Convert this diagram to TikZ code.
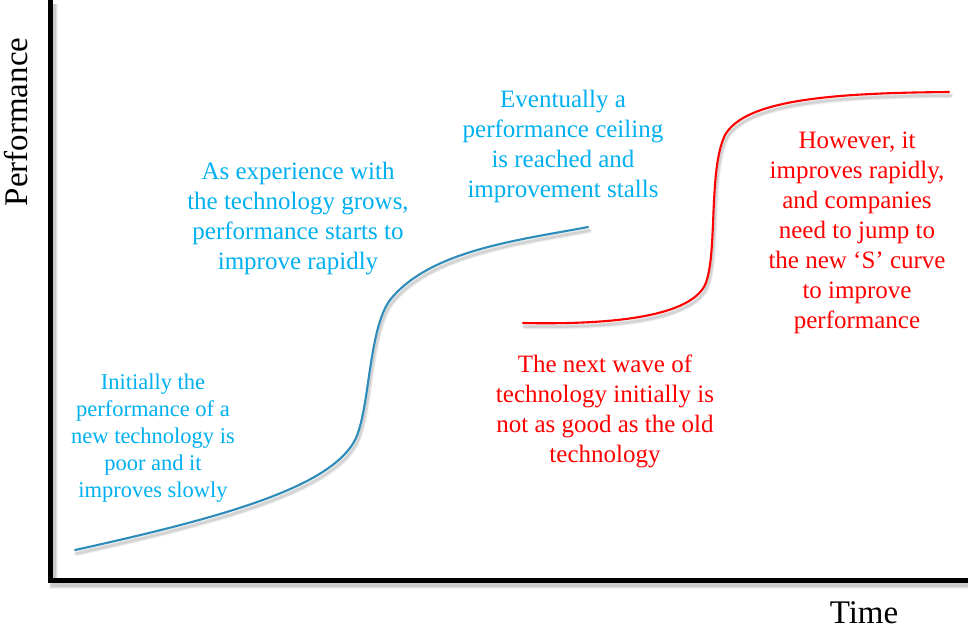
\documentclass[tikz,border=0pt]{standalone}
\usepackage{fontspec}
\setmainfont{Liberation Serif}
\definecolor{noteblue}{RGB}{0,176,240}
\definecolor{curveblue}{RGB}{45,140,185}
\definecolor{curvered}{RGB}{255,0,0}

% The two S curves (pixel-like units, y grows downwards)
\newcommand\oldcurve{(75,550) .. controls (220,518) and (330,488) .. (355,440)
  .. controls (370,410) and (368,330) .. (390,300)
  .. controls (430,250) and (520,240) .. (588,227)}
\newcommand\newcurve{(523,323) .. controls (620,325) and (690,315) .. (705,285)
  .. controls (718,255) and (708,170) .. (725,135)
  .. controls (745,100) and (830,93) .. (949,92)}
\newcommand\axespath{(50.5,0) -- (50.5,580) -- (968,580)}

\begin{document}
\begin{tikzpicture}[x=1pt,y=-1pt,
  note/.style={align=center, inner sep=0pt, font=\fontsize{25}{30}\selectfont},
  smallnote/.style={align=center, inner sep=0pt, font=\fontsize{22.5}{27}\selectfont},
  axislabel/.style={inner sep=0pt, font=\fontsize{33}{38}\selectfont},
  curve/.style={line width=2.1pt, line cap=round},
  axisline/.style={line width=5pt, line join=miter}]
\useasboundingbox[fill=white] (0,0) rectangle (968,629);

% soft drop shadows
\foreach \w/\o in {9/0.05, 7/0.07, 5.5/0.09}
  \draw[shift={(3,4)}, line width=\w pt, black, opacity=\o] \axespath;
\foreach \w/\o in {5.5/0.04, 4/0.06, 2.5/0.08}{
  \draw[shift={(1.5,3.5)}, line width=\w pt, black, opacity=\o, line cap=round] \oldcurve;
  \draw[shift={(1.5,3.5)}, line width=\w pt, black, opacity=\o, line cap=round] \newcurve;
}

% axes
\coordinate (ytop) at (50.5,0);
\coordinate (orig) at (50.5,580);
\coordinate (xend) at (968,580);
\draw[axisline] (ytop) -- (orig) -- (xend);

% curves
\draw[curve, curveblue] \oldcurve;
\draw[curve, curvered] \newcurve;

% axis labels
\node[axislabel, rotate=90] (perf) at (16,122) {Performance};
\node[axislabel] (time) at (864,613) {Time};

% annotations
\node[smallnote, text=noteblue] (slow) at (153,438)
  {Initially the\\performance of a\\new technology is\\poor and it\\improves slowly};
\node[note, text=noteblue] (grow) at (298,219)
  {As experience with\\the technology grows,\\performance starts to\\improve rapidly};
\node[note, text=noteblue] (ceil) at (563,146)
  {Eventually a\\performance ceiling\\is reached and\\improvement stalls};
\node[note, text=curvered] (wave) at (605,411)
  {The next wave of\\technology initially is\\not as good as the old\\technology};
\node[note, text=curvered] (jump) at (857,233)
  {However, it\\improves rapidly,\\and companies\\need to jump to\\the new ‘S’ curve\\to improve\\performance};
\end{tikzpicture}
\end{document}
